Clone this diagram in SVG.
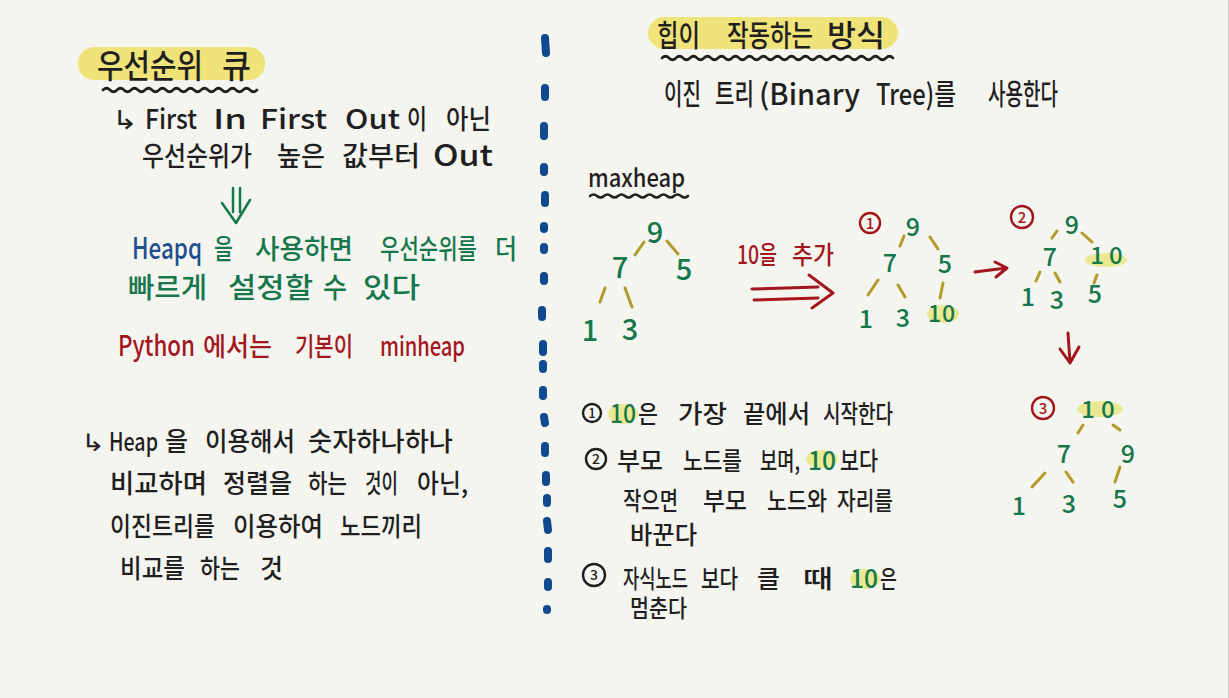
<svg xmlns="http://www.w3.org/2000/svg" width="1229" height="698" viewBox="0 0 1229 698">
<style>
text { font-family: "Noto Sans CJK KR", "Liberation Sans", sans-serif; font-weight: 500; }
.bk { fill: #1f1f1f; }
.gr { fill: #17774c; }
.bl { fill: #1f4e8e; }
.rd { fill: #a3161d; }
.hl { fill: #efe37a; }
.hl2 { fill: #e6e683; opacity: 0.85; }
.wave { fill: none; stroke: #1f1f1f; stroke-width: 2.6; stroke-linecap: round; }
.edge { fill: none; stroke: #b39a2c; stroke-width: 3; stroke-linecap: round; }
.rarr { fill: none; stroke: #a3161d; stroke-width: 3; stroke-linecap: round; stroke-linejoin: round; }
.garr { fill: none; stroke: #17774c; stroke-width: 2.5; stroke-linecap: round; stroke-linejoin: round; }
.dot { stroke: #0f4a8e; stroke-width: 8; stroke-linecap: round; }
.num { fill: #17774c; text-anchor: middle; }
.rc { fill: none; stroke: #a3161d; stroke-width: 2.4; }
.bc { fill: none; stroke: #1f1f1f; stroke-width: 2.4; }
</style>
<rect width="1229" height="698" fill="#f5f5f0"/>
<line x1="1228.5" y1="0" x2="1228.5" y2="698" stroke="#c9c9c6" stroke-width="1"/>

<!-- divider -->
<g id="divider">
<line class="dot" x1="545" y1="38" x2="546" y2="53"/>
<line class="dot" x1="545" y1="88" x2="545" y2="97"/>
<line class="dot" x1="544" y1="126" x2="544" y2="136"/>
<line class="dot" x1="544" y1="167" x2="544" y2="172"/>
<line class="dot" x1="545" y1="195" x2="545" y2="203"/>
<line class="dot" x1="544" y1="226" x2="544" y2="229"/>
<line class="dot" x1="544" y1="247" x2="544" y2="250"/>
<line class="dot" x1="544" y1="276" x2="544" y2="281"/>
<line class="dot" x1="542" y1="310" x2="542" y2="317"/>
<line class="dot" x1="543" y1="344" x2="543" y2="352"/>
<line class="dot" x1="543" y1="364" x2="543" y2="369"/>
<line class="dot" x1="543" y1="390" x2="543" y2="396"/>
<line class="dot" x1="544" y1="417" x2="545" y2="423"/>
<line class="dot" x1="545" y1="446" x2="545" y2="453"/>
<line class="dot" x1="546" y1="475" x2="546" y2="482"/>
<line class="dot" x1="547" y1="498" x2="547" y2="503"/>
<line class="dot" x1="547" y1="521" x2="548" y2="530"/>
<line class="dot" x1="548" y1="551" x2="548" y2="559"/>
<line class="dot" x1="548" y1="582" x2="548" y2="587"/>
<line class="dot" x1="547" y1="609" x2="547" y2="610"/>
</g>

<!-- LEFT COLUMN -->
<g id="title-left">
<rect class="hl" x="78" y="47" width="187" height="33" rx="16"/>
<text class="bk" y="78" font-size="33"><tspan x="97" textLength="106" lengthAdjust="spacingAndGlyphs">우선순위</tspan> <tspan x="222" textLength="29" lengthAdjust="spacingAndGlyphs">큐</tspan></text>
<path class="wave" d="M103 90 q3.5 -3.5 7 0 t7 0 t7 0 t7 0 t7 0 t7 0 t7 0 t7 0 t7 0 t7 0 t7 0 t7 0 t7 0 t7 0 t7 0 t7 0 t7 0 t7 0 t7 0 t7 0 t7 0 t7 0"/>
</g>

<g id="fifo-note">
<text class="bk" y="129" font-size="27"><tspan x="112" font-size="26" textLength="26" lengthAdjust="spacingAndGlyphs">↳</tspan><tspan x="145" textLength="52" lengthAdjust="spacingAndGlyphs">First</tspan> <tspan x="213" textLength="34" lengthAdjust="spacingAndGlyphs">In</tspan> <tspan x="260" textLength="67" lengthAdjust="spacingAndGlyphs">First</tspan> <tspan x="345" textLength="55" lengthAdjust="spacingAndGlyphs">Out</tspan><tspan x="407" textLength="20" lengthAdjust="spacingAndGlyphs">이</tspan> <tspan x="446" textLength="45" lengthAdjust="spacingAndGlyphs">아닌</tspan></text>
<text class="bk" y="166" font-size="27"><tspan x="142" textLength="110" lengthAdjust="spacingAndGlyphs">우선순위가</tspan> <tspan x="277" textLength="48" lengthAdjust="spacingAndGlyphs">높은</tspan> <tspan x="342" textLength="78" lengthAdjust="spacingAndGlyphs">값부터</tspan> <tspan x="433" font-size="29" textLength="60" lengthAdjust="spacingAndGlyphs">Out</tspan></text>
</g>

<g id="heapq-note">
<text y="259" font-size="27"><tspan class="bl" x="132" font-size="29" textLength="70" lengthAdjust="spacingAndGlyphs">Heapq</tspan><tspan class="gr" x="214" textLength="19" lengthAdjust="spacingAndGlyphs">을</tspan> <tspan class="gr" x="255" textLength="98" lengthAdjust="spacingAndGlyphs">사용하면</tspan> <tspan class="gr" x="380" textLength="97" lengthAdjust="spacingAndGlyphs">우선순위를</tspan> <tspan class="gr" x="495" textLength="22" lengthAdjust="spacingAndGlyphs">더</tspan></text>
<text class="gr" y="298" font-size="28"><tspan x="128" textLength="79" lengthAdjust="spacingAndGlyphs">빠르게</tspan> <tspan x="228" textLength="85" lengthAdjust="spacingAndGlyphs">설정할</tspan> <tspan x="323" textLength="24" lengthAdjust="spacingAndGlyphs">수</tspan> <tspan x="363" textLength="57" lengthAdjust="spacingAndGlyphs">있다</tspan></text>
</g>

<g id="python-note">
<text class="rd" y="356" font-size="26"><tspan x="118" font-size="28" textLength="77" lengthAdjust="spacingAndGlyphs">Python</tspan> <tspan x="203" textLength="69" lengthAdjust="spacingAndGlyphs">에서는</tspan> <tspan x="295" textLength="58" lengthAdjust="spacingAndGlyphs">기본이</tspan> <tspan x="380" font-size="26" textLength="85" lengthAdjust="spacingAndGlyphs">minheap</tspan></text>
</g>

<g id="heap-note">
<text class="bk" y="451" font-size="26"><tspan x="81" font-size="24" textLength="24" lengthAdjust="spacingAndGlyphs">↳</tspan><tspan x="109" font-size="25" textLength="49" lengthAdjust="spacingAndGlyphs">Heap</tspan><tspan x="165" textLength="23" lengthAdjust="spacingAndGlyphs">을</tspan> <tspan x="205" textLength="90" lengthAdjust="spacingAndGlyphs">이용해서</tspan> <tspan x="308" textLength="145" lengthAdjust="spacingAndGlyphs">숫자하나하나</tspan></text>
<text class="bk" y="493" font-size="26"><tspan x="110" textLength="97" lengthAdjust="spacingAndGlyphs">비교하며</tspan> <tspan x="223" textLength="69" lengthAdjust="spacingAndGlyphs">정렬을</tspan> <tspan x="308" textLength="39" lengthAdjust="spacingAndGlyphs">하는</tspan> <tspan x="365" textLength="33" lengthAdjust="spacingAndGlyphs">것이</tspan> <tspan x="417" textLength="51" lengthAdjust="spacingAndGlyphs">아닌,</tspan></text>
<text class="bk" y="536" font-size="26"><tspan x="110" textLength="105" lengthAdjust="spacingAndGlyphs">이진트리를</tspan> <tspan x="233" textLength="90" lengthAdjust="spacingAndGlyphs">이용하여</tspan> <tspan x="340" textLength="82" lengthAdjust="spacingAndGlyphs">노드끼리</tspan></text>
<text class="bk" y="578" font-size="26"><tspan x="120" textLength="65" lengthAdjust="spacingAndGlyphs">비교를</tspan> <tspan x="200" textLength="40" lengthAdjust="spacingAndGlyphs">하는</tspan> <tspan x="260" textLength="23" lengthAdjust="spacingAndGlyphs">것</tspan></text>
</g>

<!-- RIGHT COLUMN -->
<g id="title-right">
<rect class="hl" x="648" y="17" width="250" height="32" rx="16"/>
<text class="bk" y="46" font-size="30"><tspan x="657" textLength="43" lengthAdjust="spacingAndGlyphs">힙이</tspan> <tspan x="727" textLength="86" lengthAdjust="spacingAndGlyphs">작동하는</tspan> <tspan x="827" textLength="58" lengthAdjust="spacingAndGlyphs">방식</tspan></text>
<path class="wave" d="M662 58 q3.5 -3.5 7 0 t7 0 t7 0 t7 0 t7 0 t7 0 t7 0 t7 0 t7 0 t7 0 t7 0 t7 0 t7 0 t7 0 t7 0 t7 0 t7 0 t7 0 t7 0 t7 0 t7 0 t7 0 t7 0 t7 0 t7 0 t7 0 t7 0 t7 0 t7 0 t7 0 t7 0 t7 0 t7 0"/>
</g>

<g id="binary-tree-note">
<text class="bk" y="105" font-size="29"><tspan x="664" textLength="37" lengthAdjust="spacingAndGlyphs">이진</tspan> <tspan x="715" textLength="39" lengthAdjust="spacingAndGlyphs">트리</tspan> <tspan x="759" textLength="101" lengthAdjust="spacingAndGlyphs">(Binary</tspan> <tspan x="876" textLength="80" lengthAdjust="spacingAndGlyphs">Tree)를</tspan> <tspan x="988" textLength="70" lengthAdjust="spacingAndGlyphs">사용한다</tspan></text>
</g>

<g id="maxheap-label">
<text class="bk" x="588" y="187" font-size="25" textLength="97" lengthAdjust="spacingAndGlyphs">maxheap</text>
<path class="wave" d="M590 196 q3.5 -3 7 0 t7 0 t7 0 t7 0 t7 0 t7 0 t7 0 t7 0 t7 0 t7 0 t7 0 t7 0 t7 0 t7 0"/>
</g>

<!-- connectors -->
<g id="connectors">
<path class="garr" d="M233 188 L233 212 M240 188 L240 212 M222 203 L236 223 L250 200"/>
<path class="edge" d="M635 255 L644 242 M667 241 L678 254 M605 288 L600 302 M625 288 L632 307"/>
<path class="rarr" d="M752 289 L818 287 M754 300 L818 298 M809 275 L833 293 L812 308"/>
<path class="edge" d="M900 246 L904 236 M930 237 L938 249 M878 280 L868 295 M898 285 L905 297 M943 283 L940 298"/>
<path class="rarr" d="M975 272 L1006 268 M995 262 L1007 268 L996 277"/>
<path class="edge" d="M1052 238 L1057 231 M1082 233 L1092 242 M1040 272 L1036 281 M1055 273 L1060 282 M1097 275 L1094 283"/>
<path class="rarr" d="M1068 333 L1070 362 M1060 349 L1070 363 L1079 347"/>
<path class="edge" d="M1078 433 L1083 425 M1113 425 L1120 430 M1032 487 L1045 473 M1066 472 L1073 482 M1115 482 L1120 467"/>
</g>

<!-- tree 1 nodes -->
<g id="t1-9"><text class="num" x="655" y="243" font-size="29">9</text></g>
<g id="t1-7"><text class="num" x="620" y="278" font-size="29">7</text></g>
<g id="t1-5"><text class="num" x="684" y="280" font-size="29">5</text></g>
<g id="t1-1"><text class="num" x="590" y="341" font-size="29">1</text></g>
<g id="t1-3"><text class="num" x="630" y="340" font-size="29">3</text></g>

<g id="add-label">
<text class="rd" y="264" font-size="25"><tspan x="737" textLength="40" lengthAdjust="spacingAndGlyphs">10을</tspan> <tspan x="792" textLength="42" lengthAdjust="spacingAndGlyphs">추가</tspan></text>
</g>

<!-- tree 2 -->
<g id="step1-mark"><circle class="rc" cx="870" cy="223" r="10"/><text x="870" y="229" font-size="15" class="rd" text-anchor="middle">1</text></g>
<g id="t2-9"><text class="num" x="913" y="236" font-size="25">9</text></g>
<g id="t2-7"><text class="num" x="890" y="272" font-size="25">7</text></g>
<g id="t2-5"><text class="num" x="945" y="273" font-size="25">5</text></g>
<g id="t2-1"><text class="num" x="866" y="328" font-size="25">1</text></g>
<g id="t2-3"><text class="num" x="903" y="327" font-size="25">3</text></g>
<g id="t2-10"><ellipse class="hl2" cx="943" cy="314" rx="16" ry="9"/><text class="num" x="942" y="322" font-size="23" letter-spacing="1">10</text></g>

<!-- tree 3 -->
<g id="step2-mark"><circle class="rc" cx="1022" cy="217" r="11"/><text x="1022" y="223" font-size="15" class="rd" text-anchor="middle">2</text></g>
<g id="t3-9"><text class="num" x="1072" y="234" font-size="25">9</text></g>
<g id="t3-7"><text class="num" x="1050" y="266" font-size="25">7</text></g>
<g id="t3-10"><ellipse class="hl2" cx="1106" cy="260" rx="21" ry="7"/><text class="num" x="1109" y="264" font-size="24" letter-spacing="5">10</text></g>
<g id="t3-1"><text class="num" x="1028" y="306" font-size="25">1</text></g>
<g id="t3-3"><text class="num" x="1057" y="309" font-size="25">3</text></g>
<g id="t3-5"><text class="num" x="1095" y="303" font-size="25">5</text></g>

<!-- tree 4 -->
<g id="step3-mark"><circle class="rc" cx="1043" cy="408" r="11"/><text x="1043" y="414" font-size="15" class="rd" text-anchor="middle">3</text></g>
<g id="t4-10"><ellipse class="hl2" cx="1100" cy="409" rx="23" ry="8"/><text class="num" x="1101" y="418" font-size="24" letter-spacing="6">10</text></g>
<g id="t4-7"><text class="num" x="1064" y="463" font-size="25">7</text></g>
<g id="t4-9"><text class="num" x="1128" y="463" font-size="25">9</text></g>
<g id="t4-1"><text class="num" x="1019" y="515" font-size="25">1</text></g>
<g id="t4-3"><text class="num" x="1069" y="513" font-size="25">3</text></g>
<g id="t4-5"><text class="num" x="1120" y="508" font-size="25">5</text></g>

<!-- explanation -->
<g id="explain-1">
<circle class="bc" cx="592" cy="413" r="9"/><text class="bk" x="592" y="418" font-size="13" text-anchor="middle">1</text>
<ellipse class="hl2" cx="623" cy="414" rx="15" ry="10"/>
<text y="423" font-size="25"><tspan class="gr" x="610" textLength="26" lengthAdjust="spacingAndGlyphs">10</tspan><tspan class="bk" x="638" textLength="20" lengthAdjust="spacingAndGlyphs">은</tspan> <tspan class="bk" x="678" textLength="49" lengthAdjust="spacingAndGlyphs">가장</tspan> <tspan class="bk" x="743" textLength="67" lengthAdjust="spacingAndGlyphs">끝에서</tspan> <tspan class="bk" x="823" textLength="70" lengthAdjust="spacingAndGlyphs">시작한다</tspan></text>
</g>
<g id="explain-2">
<circle class="bc" cx="596" cy="459" r="10"/><text class="bk" x="596" y="464" font-size="14" text-anchor="middle">2</text>
<ellipse class="hl2" cx="822" cy="459" rx="16" ry="9"/>
<text y="470" font-size="25"><tspan class="bk" x="617" textLength="46" lengthAdjust="spacingAndGlyphs">부모</tspan> <tspan class="bk" x="683" textLength="59" lengthAdjust="spacingAndGlyphs">노드를</tspan> <tspan class="bk" x="760" textLength="40" lengthAdjust="spacingAndGlyphs">보며,</tspan> <tspan class="gr" x="808" textLength="28" lengthAdjust="spacingAndGlyphs">10</tspan> <tspan class="bk" x="840" textLength="38" lengthAdjust="spacingAndGlyphs">보다</tspan></text>
<text class="bk" y="510" font-size="25"><tspan x="623" textLength="55" lengthAdjust="spacingAndGlyphs">작으면</tspan> <tspan x="703" textLength="44" lengthAdjust="spacingAndGlyphs">부모</tspan> <tspan x="767" textLength="60" lengthAdjust="spacingAndGlyphs">노드와</tspan> <tspan x="837" textLength="56" lengthAdjust="spacingAndGlyphs">자리를</tspan></text>
<text class="bk" x="630" y="544" font-size="25" textLength="67" lengthAdjust="spacingAndGlyphs">바꾼다</text>
</g>
<g id="explain-3">
<circle class="bc" cx="594" cy="575" r="11"/><text class="bk" x="594" y="580" font-size="14" text-anchor="middle">3</text>
<ellipse class="hl2" cx="865" cy="579" rx="15" ry="10"/>
<text y="588" font-size="25"><tspan class="bk" x="623" textLength="65" lengthAdjust="spacingAndGlyphs">자식노드</tspan> <tspan class="bk" x="701" textLength="37" lengthAdjust="spacingAndGlyphs">보다</tspan> <tspan class="bk" x="757" textLength="23" lengthAdjust="spacingAndGlyphs">클</tspan> <tspan class="bk" x="803" textLength="30" lengthAdjust="spacingAndGlyphs">때</tspan> <tspan class="gr" x="850" textLength="28" lengthAdjust="spacingAndGlyphs">10</tspan><tspan class="bk" x="880" textLength="17" lengthAdjust="spacingAndGlyphs">은</tspan></text>
<text class="bk" x="630" y="617" font-size="24" textLength="57" lengthAdjust="spacingAndGlyphs">멈춘다</text>
</g>
</svg>
